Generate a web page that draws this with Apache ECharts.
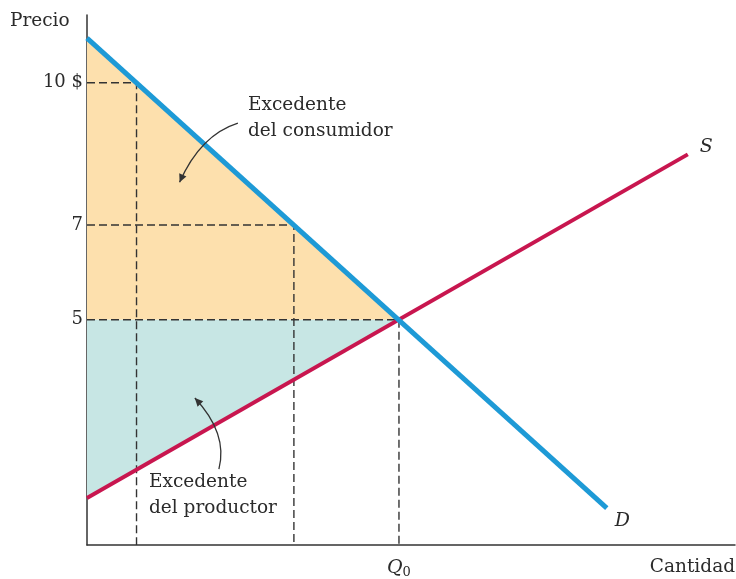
<!DOCTYPE html>
<html>
<head>
<meta charset="utf-8">
<script src="https://cdn.jsdelivr.net/npm/echarts@6/dist/echarts.min.js"></script>
<style>
  html, body { margin: 0; padding: 0; background: #fff; }
  #chart { width: 736px; height: 579px; }
</style>
</head>
<body>
<div id="chart"></div>
<script>
// curvas (cantidad, precio)
var demandQ = [0, 11.23];
var demandP = [10.94, 1.03];
var supplyQ = [0, 12.98];
var supplyP = [1.24, 8.49];

// precios marcados y cantidades sobre la demanda
var priceLevels = [10, 7, 5];
var priceLabels = ['10 $', '7', '5'];
var qtyLevels = [1.07, 4.47, 6.74];

var q0 = 6.74;
var p0 = 5;
var yMin = 0.25;

var font = 'DejaVu Serif';
var ink = '#2b2b2b';
var chart = echarts.init(document.getElementById('chart'));

function pairs(xs, ys) {
    return xs.map(function (x, i) { return [x, ys[i]]; });
}

function triangle(points, color) {
    return {
        type: 'custom',
        silent: true,
        z: 1,
        renderItem: function (params, api) {
            if (params.dataIndex > 0) return;
            return {
                type: 'polygon',
                shape: { points: points.map(function (p) { return api.coord(p); }) },
                style: { fill: color }
            };
        },
        data: points
    };
}

var dashed = priceLevels.map(function (p, i) {
    return {
        type: 'line',
        silent: true,
        z: 2,
        symbol: 'none',
        lineStyle: { color: '#333', width: 1.4, type: [8, 4] },
        data: [[0, p], [qtyLevels[i], p], [qtyLevels[i], yMin]]
    };
});

// etiqueta en el extremo de cada curva
function endLabel(xs, ys, name, pos) {
    return pairs(xs, ys).map(function (d, i) {
        if (i < xs.length - 1) return { value: d, label: { show: false } };
        return {
            value: d,
            label: {
                show: true, formatter: name, position: pos,
                fontFamily: font, fontStyle: 'italic', fontSize: 19, color: ink
            }
        };
    });
}

var option = {
    animation: false,
    grid: { left: 87, right: 1, top: 15, bottom: 32 },
    xAxis: {
        type: 'value', min: 0, max: 14,
        axisLine: { lineStyle: { color: '#333', width: 1.5 } },
        axisTick: { show: false },
        splitLine: { show: false },
        axisLabel: {
            customValues: [q0],
            margin: 12,
            formatter: function () { return '{q|Q}{s|0}'; },
            rich: {
                q: { fontFamily: font, fontStyle: 'italic', fontSize: 19, color: ink },
                s: { fontFamily: font, fontSize: 13, color: ink, verticalAlign: 'bottom', padding: [9, 0, 0, 0] }
            }
        }
    },
    yAxis: {
        type: 'value', min: yMin, max: 11.43,
        axisLine: { lineStyle: { color: '#333', width: 1.5 } },
        axisTick: { show: false },
        splitLine: { show: false },
        axisLabel: {
            customValues: priceLevels,
            margin: 4,
            fontFamily: font, fontSize: 18, color: ink,
            formatter: function (v) { return priceLabels[priceLevels.indexOf(v)]; }
        }
    },
    series: [
        triangle([[0, demandP[0]], [q0, p0], [0, p0]], '#fde0ad'),
        triangle([[0, p0], [q0, p0], [0, supplyP[0]]], '#c7e6e4')
    ].concat(dashed).concat([
        {
            type: 'line', z: 3, silent: true,
            symbol: 'circle', symbolSize: 0, showSymbol: true,
            lineStyle: { color: '#c8164f', width: 4 },
            data: endLabel(supplyQ, supplyP, 'S', [12, -17])
        },
        {
            type: 'line', z: 4, silent: true,
            symbol: 'circle', symbolSize: 0, showSymbol: true,
            lineStyle: { color: '#1e9ad6', width: 5 },
            data: endLabel(demandQ, demandP, 'D', [8, 4])
        }
    ])
};
chart.setOption(option);

// rótulos y flechas anotadas
function px(q, p) { return chart.convertToPixel('grid', [q, p]); }
var a1 = px(3.26, 9.15), c1 = px(2.45, 8.9), b1 = px(2.0, 7.9);
var a2 = px(2.85, 1.85), c2 = px(3.05, 2.6), b2 = px(2.33, 3.35);

function arrowHead(tip, from) {
    var ang = Math.atan2(tip[1] - from[1], tip[0] - from[0]);
    var l = 9, w = 0.45;
    return [
        tip,
        [tip[0] - l * Math.cos(ang - w), tip[1] - l * Math.sin(ang - w)],
        [tip[0] - l * Math.cos(ang + w), tip[1] - l * Math.sin(ang + w)]
    ];
}

var txt = { fontFamily: font, fontSize: 18.5, fill: ink, lineHeight: 26 };
chart.setOption({
    graphic: [
        { type: 'text', left: 10, top: 8, style: Object.assign({ text: 'Precio' }, txt) },
        { type: 'text', right: 1, top: 554, style: Object.assign({ text: 'Cantidad' }, txt) },
        { type: 'text', x: 248, y: 92, style: Object.assign({ text: 'Excedente\ndel consumidor' }, txt) },
        { type: 'text', x: 147, y: 469, style: Object.assign({ text: 'Excedente\ndel productor', backgroundColor: '#fff', padding: [0, 2, 0, 2] }, txt), z: 5 },
        { type: 'bezierCurve', shape: { x1: a1[0], y1: a1[1], cpx1: c1[0], cpy1: c1[1], x2: b1[0], y2: b1[1] }, style: { stroke: '#333', lineWidth: 1.3, fill: null }, z: 6 },
        { type: 'polygon', shape: { points: arrowHead(b1, c1) }, style: { fill: '#333' }, z: 6 },
        { type: 'bezierCurve', shape: { x1: a2[0], y1: a2[1], cpx1: c2[0], cpy1: c2[1], x2: b2[0], y2: b2[1] }, style: { stroke: '#333', lineWidth: 1.3, fill: null }, z: 6 },
        { type: 'polygon', shape: { points: arrowHead(b2, c2) }, style: { fill: '#333' }, z: 6 }
    ]
});
</script>
</body>
</html>
